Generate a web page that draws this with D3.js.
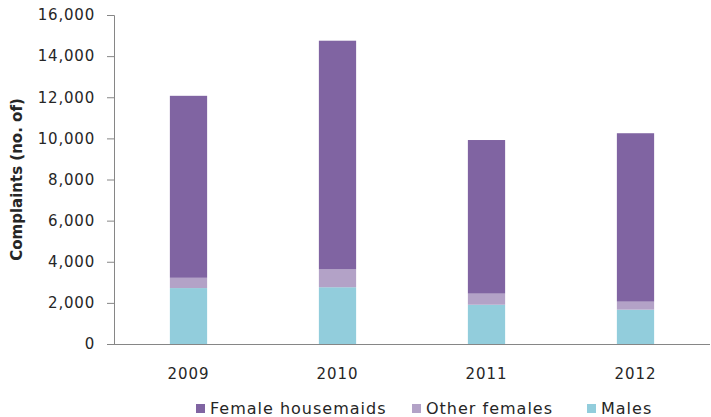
<!DOCTYPE html>
<html>
<head>
<meta charset="utf-8">
<script src="https://cdn.jsdelivr.net/npm/d3@7"></script>
<style>
  body { margin: 0; background: #fff; }
  svg { display: block; }
  text { font-family: "DejaVu Sans", sans-serif; fill: #262626; }
</style>
</head>
<body>
<svg id="chart" width="711" height="417"></svg>
<script>
// Complaints by year, stacked by group
const years = ["2009", "2010", "2011", "2012"];
const seriesNames = ["Males", "Other females", "Female housemaids"];
const males = [2720, 2760, 1910, 1670];
const otherFemales = [500, 870, 540, 390];
const femaleHousemaids = [8850, 11120, 7470, 8190];
const yTicks = [0, 2000, 4000, 6000, 8000, 10000, 12000, 14000, 16000];
const colors = { "Males": "#92CDDC", "Other females": "#B3A2C7", "Female housemaids": "#8064A2" };
const legendOrder = ["Female housemaids", "Other females", "Males"];

const rows = years.map((y, i) => ({
  year: y,
  "Males": males[i],
  "Other females": otherFemales[i],
  "Female housemaids": femaleHousemaids[i]
}));

const svg = d3.select("#chart");
const margin = { left: 114, right: 1, top: 15, bottom: 73 };
const W = 711, H = 417;

const x = d3.scaleBand().domain(years).range([margin.left, W - margin.right]).paddingInner(0.75).paddingOuter(0.375);
const y = d3.scaleLinear().domain([0, 16000]).range([H - margin.bottom, margin.top]);

const stack = d3.stack().keys(seriesNames)(rows);

svg.append("g").selectAll("g").data(stack).join("g")
  .attr("fill", d => colors[d.key])
  .selectAll("rect").data(d => d).join("rect")
  .attr("x", d => x(d.data.year))
  .attr("width", x.bandwidth())
  .attr("y", d => y(d[1]))
  .attr("height", d => y(d[0]) - y(d[1]));

// Y axis
const yAxis = svg.append("g")
  .attr("transform", `translate(${margin.left},0)`)
  .call(d3.axisLeft(y).tickValues(yTicks).tickFormat(d3.format(",")).tickSize(7).tickPadding(12));
yAxis.selectAll("line, path").attr("stroke", "#868686");
yAxis.selectAll("text").attr("font-size", 15).attr("letter-spacing", 0.8)
  .attr("font-family", "DejaVu Sans, sans-serif").attr("fill", "#262626");

// X axis
const xAxis = svg.append("g")
  .attr("transform", `translate(0,${y(0)})`)
  .call(d3.axisBottom(x).tickSize(0).tickPadding(24));
xAxis.select("path").attr("stroke", "#868686").attr("d", `M${margin.left},0.5H${W - margin.right}`);
xAxis.selectAll("text").attr("font-size", 15).attr("letter-spacing", 1)
  .attr("font-family", "DejaVu Sans, sans-serif").attr("fill", "#262626");

// Y axis title
svg.append("text")
  .attr("transform", `translate(22,${(y(0) + y(16000)) / 2}) rotate(-90)`)
  .attr("text-anchor", "middle")
  .attr("font-size", 15)
  .attr("font-weight", "bold")
  .text("Complaints (no. of)");

// Legend
const legendX = [196, 412, 587];
const lg = svg.append("g").selectAll("g").data(legendOrder).join("g")
  .attr("transform", (d, i) => `translate(${legendX[i]},404)`);
lg.append("rect").attr("width", 9).attr("height", 9).attr("fill", d => colors[d]);
lg.append("text").attr("x", 14).attr("y", 10).attr("font-size", 16).attr("letter-spacing", 1).text(d => d);
</script>
</body>
</html>
